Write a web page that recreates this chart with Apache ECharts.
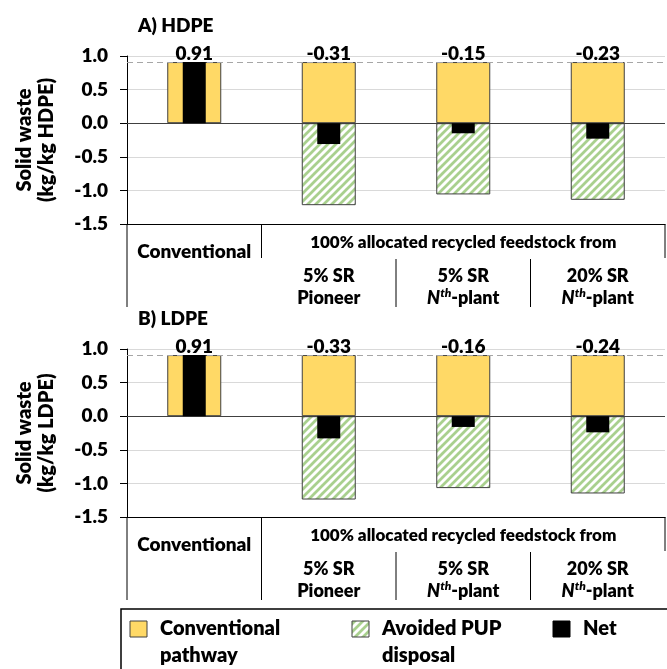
<!DOCTYPE html>
<html><head><meta charset="utf-8">
<script src="https://cdn.jsdelivr.net/npm/echarts@6/dist/echarts.min.js"></script>
<style>html,body{margin:0;padding:0;background:#fff}#c{width:667px;height:669px}</style>
</head><body><div id="c"></div>
<script>
// ---- data ----
const categories = ['Conventional', '5% SR Pioneer', '5% SR Nth-plant', '20% SR Nth-plant'];
const hdpeConventional = [0.91, 0.91, 0.91, 0.91];
const hdpeAvoided = [null, -1.22, -1.06, -1.14];
const hdpeNet = [0.91, -0.31, -0.15, -0.23];
const ldpeConventional = [0.91, 0.91, 0.91, 0.91];
const ldpeAvoided = [null, -1.24, -1.07, -1.15];
const ldpeNet = [0.91, -0.33, -0.16, -0.24];
const yMin = -1.5, yMax = 1.0, yStep = 0.5;
const refLine = 0.91;
const panelTitles = ['A) HDPE', 'B) LDPE'];
const yNames = ['Solid waste\n(kg/kg HDPE)', 'Solid waste\n(kg/kg LDPE)'];
const firstLabel = 'Conventional';
const groupLabel = '100% allocated recycled feedstock from';
const subLabels = ['5% SR\nPioneer', '5% SR\n{i|N}{s|th}-plant', '20% SR\n{i|N}{s|th}-plant'];
const legendNames = ['Conventional\npathway', 'Avoided PUP\ndisposal', 'Net'];

// ---- style ----
const FONT = 'Lato, "Liberation Sans", sans-serif';
const FW = 800;
const YELLOW = '#FFD966', GREEN = '#A9D08E', EDGE = '#404040';
function hatch() {
  const s = 8, c = document.createElement('canvas');
  c.width = s; c.height = s;
  const g = c.getContext('2d');
  g.fillStyle = '#fff'; g.fillRect(0, 0, s, s);
  g.strokeStyle = GREEN; g.lineWidth = 2.8; g.lineCap = 'square';
  g.beginPath();
  g.moveTo(0, s); g.lineTo(s, 0);
  g.moveTo(-s / 2, s / 2); g.lineTo(s / 2, -s / 2);
  g.moveTo(s / 2, s * 1.5); g.lineTo(s * 1.5, s / 2);
  g.stroke();
  return c;
}
const HATCH = { image: hatch(), repeat: 'repeat' };

const panels = [
  { conv: hdpeConventional, avoid: hdpeAvoided, net: hdpeNet, top: 56 },
  { conv: ldpeConventional, avoid: ldpeAvoided, net: ldpeNet, top: 349 }
];
const GRID_LEFT = 127, GRID_W = 538, GRID_H = 168;

const chart = echarts.init(document.getElementById('c'), null, { renderer: 'canvas' });

const grid = [], xAxis = [], yAxis = [], series = [];
panels.forEach((p, gi) => {
  grid.push({ left: GRID_LEFT, top: p.top, width: GRID_W, height: GRID_H });
  xAxis.push({
    type: 'category', gridIndex: gi, data: categories, position: 'bottom',
    axisLine: { onZero: false, lineStyle: { color: '#000', width: 1 } },
    axisTick: { show: false }, axisLabel: { show: false }
  });
  xAxis.push({
    type: 'category', gridIndex: gi, data: categories, show: false
  });
  yAxis.push({
    type: 'value', gridIndex: gi, min: yMin, max: yMax, interval: yStep,
    name: yNames[gi], nameLocation: 'middle', nameRotate: 90, nameGap: 69,
    nameTextStyle: { fontFamily: FONT, fontWeight: FW, fontSize: 20, color: '#000', lineHeight: 22 },
    axisLine: { show: true, lineStyle: { color: '#000', width: 1 } },
    axisTick: { show: true, length: 7, lineStyle: { color: '#000' } },
    axisLabel: { fontFamily: FONT, fontWeight: FW, fontSize: 19, color: '#000', margin: 19,
      formatter: v => v.toFixed(1) },
    splitLine: { show: true, lineStyle: { color: '#D9D9D9', width: 1 } }
  });
  const net = p.net;
  series.push({
    type: 'bar', name: 'Conventional pathway', xAxisIndex: gi * 2, yAxisIndex: gi,
    stack: 'p' + gi, barWidth: 54, data: p.conv,
    itemStyle: { color: YELLOW, borderColor: EDGE, borderWidth: 1 },
    label: { show: true, position: 'top', distance: -1, fontFamily: FONT, fontWeight: FW,
      fontSize: 19, color: '#000', formatter: d => net[d.dataIndex].toFixed(2) },
    markLine: {
      silent: true, symbol: 'none', label: { show: false },
      data: [
        { yAxis: 0, lineStyle: { color: '#404040', type: 'solid', width: 1.2 } },
        { yAxis: refLine, lineStyle: { color: '#A6A6A6', type: [6, 4], width: 1.2 } }
      ]
    }
  });
  series.push({
    type: 'bar', name: 'Avoided PUP disposal', xAxisIndex: gi * 2, yAxisIndex: gi,
    stack: 'p' + gi, barWidth: 54, data: p.avoid,
    itemStyle: { color: HATCH, borderColor: EDGE, borderWidth: 1 }
  });
  series.push({
    type: 'bar', name: 'Net', xAxisIndex: gi * 2 + 1, yAxisIndex: gi,
    barWidth: 23, data: net, z: 5,
    itemStyle: { color: '#000' }
  });
});

chart.setOption({ animation: false, grid, xAxis, yAxis, series });

// ---- table-style category header & legend (positioned from the axes) ----
const graphic = [];
const txt = (x, y, text, opt) => graphic.push({
  type: 'text', x, y, silent: true,
  style: Object.assign({ text, fill: '#000', fontFamily: FONT, fontWeight: FW, fontSize: 18,
    align: 'center', verticalAlign: 'middle' }, opt || {})
});
const line = (x1, y1, x2, y2, w) => graphic.push({
  type: 'line', silent: true, shape: { x1, y1, x2, y2 },
  style: { stroke: '#000', lineWidth: w || 1 }
});
const richSup = {
  i: { fontFamily: FONT, fontWeight: FW, fontStyle: 'italic', fontSize: 18 },
  s: { fontFamily: FONT, fontWeight: FW, fontStyle: 'italic', fontSize: 12, verticalAlign: 'top', padding: [0, 0, 6, 0] }
};
panels.forEach((p, gi) => {
  const c0 = chart.convertToPixel({ gridIndex: gi }, [0, yMin]);
  const c1 = chart.convertToPixel({ gridIndex: gi }, [1, yMin]);
  const catW = c1[0] - c0[0];
  const B = c0[1];
  const xe = i => c0[0] - catW / 2 + i * catW;
  const cx = i => c0[0] + i * catW;
  line(xe(0), B, xe(0), B + 83);
  line(xe(1), B, xe(1), gi === 0 ? B + 34 : B + 83);
  line(xe(2), B + 35, xe(2), B + 83);
  line(xe(3), B + 35, xe(3), B + 83);
  line(xe(4), B, xe(4), B + 34);
  txt(cx(0), B + 28, firstLabel, { fontSize: 19 });
  txt((xe(1) + xe(4)) / 2, B + 19, groupLabel, { fontSize: 17 });
  subLabels.forEach((s, k) => txt(cx(k + 1), B + 63, s, { lineHeight: 22, rich: richSup }));
  const top = chart.convertToPixel({ gridIndex: gi }, [0, yMax])[1];
  txt(xe(0) + 11, top - 30, panelTitles[gi], { align: 'left', fontSize: 19 });
});
// legend box
graphic.push({ type: 'rect', silent: true, shape: { x: 121, y: 609, width: 600, height: 120 },
  style: { fill: 'none', stroke: '#000', lineWidth: 1.5 } });
const legendFills = [YELLOW, HATCH, '#000'];
const legendX = [130, 352, 553];
legendNames.forEach((n, k) => {
  graphic.push({ type: 'rect', silent: true, shape: { x: legendX[k], y: 621, width: 17, height: 16 },
    style: { fill: legendFills[k], stroke: k === 2 ? '#000' : EDGE, lineWidth: 1 } });
  txt(legendX[k] + 30, 629 - 13.5, n, { align: 'left', verticalAlign: 'top', fontSize: 20, lineHeight: 27 });
});
chart.setOption({ graphic });
</script>
</body></html>
